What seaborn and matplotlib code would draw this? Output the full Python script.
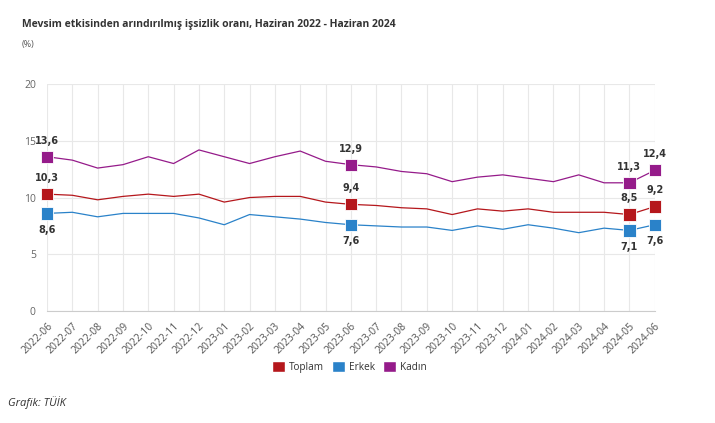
import matplotlib
matplotlib.use("Agg")
import matplotlib.pyplot as plt
import matplotlib.patches as mpatches
import seaborn as sns
import pandas as pd

months = ["2022-06", "2022-07", "2022-08", "2022-09", "2022-10", "2022-11", "2022-12",
          "2023-01", "2023-02", "2023-03", "2023-04", "2023-05", "2023-06", "2023-07",
          "2023-08", "2023-09", "2023-10", "2023-11", "2023-12", "2024-01", "2024-02",
          "2024-03", "2024-04", "2024-05", "2024-06"]
toplam = [10.3, 10.2, 9.8, 10.1, 10.3, 10.1, 10.3, 9.6, 10.0, 10.1, 10.1, 9.6, 9.4,
          9.3, 9.1, 9.0, 8.5, 9.0, 8.8, 9.0, 8.7, 8.7, 8.7, 8.5, 9.2]
erkek = [8.6, 8.7, 8.3, 8.6, 8.6, 8.6, 8.2, 7.6, 8.5, 8.3, 8.1, 7.8, 7.6,
         7.5, 7.4, 7.4, 7.1, 7.5, 7.2, 7.6, 7.3, 6.9, 7.3, 7.1, 7.6]
kadin = [13.6, 13.3, 12.6, 12.9, 13.6, 13.0, 14.2, 13.6, 13.0, 13.6, 14.1, 13.2, 12.9,
         12.7, 12.3, 12.1, 11.4, 11.8, 12.0, 11.7, 11.4, 12.0, 11.3, 11.3, 12.4]
series_names = ["Toplam", "Erkek", "Kadın"]
highlight = ["2022-06", "2023-06", "2024-05", "2024-06"]

title = "Mevsim etkisinden arındırılmış işsizlik oranı, Haziran 2022 - Haziran 2024"
unit = "(%)"
source = "Grafik: TÜİK"
yticks = [0, 5, 10, 15, 20]

colors = {"Toplam": "#b5171c", "Erkek": "#2a82c9", "Kadın": "#951b8a"}

df = pd.DataFrame({"Ay": months * 3,
                   "Seri": sum([[n] * len(months) for n in series_names], []),
                   "Değer": toplam + erkek + kadin})
df["x"] = df["Ay"].map({m: i for i, m in enumerate(months)})
hl = df[df["Ay"].isin(highlight)]

sns.set_style("white")
plt.rcParams["font.family"] = ["Open Sans", "DejaVu Sans"]

fig = plt.figure(figsize=(7.15, 4.23), dpi=100)
ax = fig.add_axes([0.0657, 0.265, 0.85, 0.536])

sns.lineplot(data=df, x="x", y="Değer", hue="Seri", palette=colors, ax=ax,
             linewidth=0.9, legend=False, zorder=3)
sns.scatterplot(data=hl, x="x", y="Değer", hue="Seri", palette=colors, ax=ax,
                marker="s", s=78, edgecolor="white", linewidth=0.6, legend=False, zorder=4)
for c in ax.collections:
    c.set_clip_on(False)

for _, r in hl.iterrows():
    if r["Seri"] == "Erkek":
        off, va = -8, "top"
    else:
        off, va = 8, "bottom"
    ax.annotate(f"{r['Değer']:.1f}".replace(".", ","), (r["x"], r["Değer"]),
                xytext=(0, off), textcoords="offset points", ha="center", va=va,
                fontsize=7, fontweight="bold", color="#333333", family="DejaVu Sans")

ax.set_xlim(0, len(months) - 1)
ax.set_ylim(0, 20)
ax.set_yticks(yticks)
ax.set_yticklabels([str(t) for t in yticks], fontsize=7.5, color="#666666")
ax.set_xticks(range(len(months)))
ax.set_xticklabels(months, rotation=45, ha="right", rotation_mode="anchor",
                   fontsize=7.5, color="#555555")
ax.tick_params(axis="y", length=0, pad=8)
ax.tick_params(axis="x", length=4, color="#cccccc", pad=3)
ax.grid(True, color="#e8e8e8", linewidth=0.8)
ax.set_axisbelow(True)
for s in ["top", "right", "left"]:
    ax.spines[s].set_visible(False)
ax.spines["bottom"].set_color("#cccccc")
ax.set_xlabel("")
ax.set_ylabel("")

fig.text(22 / 715, 1 - 25 / 423, title, fontsize=7.5, fontweight="bold",
         color="#333333", va="center", ha="left")
fig.text(22 / 715, 1 - 45 / 423, unit, fontsize=6.5, color="#555555", va="center", ha="left")
fig.text(8 / 715, 1 - 403 / 423, source, fontsize=8, style="italic",
         color="#333333", va="center", ha="left")

handles = [mpatches.Patch(facecolor=colors[n], edgecolor="white", label=n) for n in series_names]
fig.legend(handles=handles, loc="center", bbox_to_anchor=(349 / 715, 1 - 367 / 423),
           ncol=3, frameon=False, fontsize=7.2, handlelength=1.3, handleheight=1.3,
           handletextpad=0.4, columnspacing=0.8, labelcolor="#333333")

fig.savefig("out.png", dpi=100)
